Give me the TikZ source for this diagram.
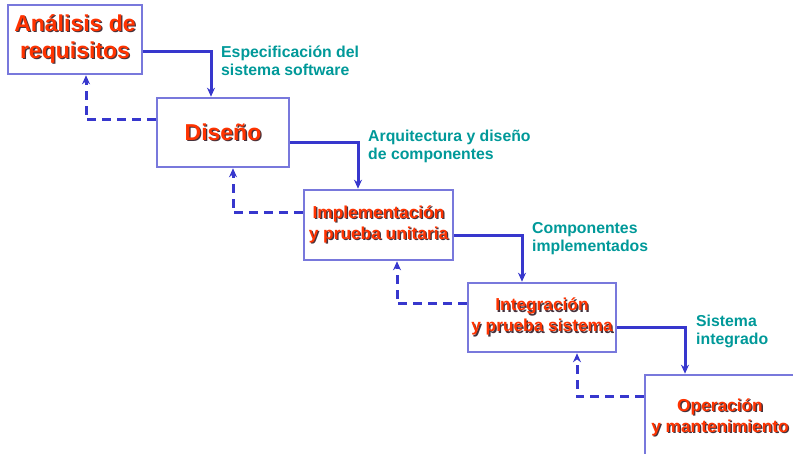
\documentclass[tikz,border=0pt]{standalone}
\usepackage{fontspec}
\setmainfont{Liberation Sans}
\usetikzlibrary{arrows.meta,positioning}
\definecolor{boxline}{RGB}{120,120,220}
\definecolor{flowblue}{RGB}{55,55,205}
\definecolor{boxred}{RGB}{255,51,0}
\definecolor{redshade}{RGB}{70,50,60}
\definecolor{labteal}{RGB}{0,153,153}
\newcommand\shd[1]{\makebox[0pt][l]{\kern1.3pt\raisebox{-1.3pt}{\color{redshade}#1}}{\color{boxred}#1}}

\begin{document}
\begin{tikzpicture}[x=1pt,y=-1pt,>={Stealth[length=9pt,width=8pt]},
  phase/.style={draw=boxline,line width=2.6pt,fill=white,align=center,inner sep=0pt,
    font=\bfseries\fontsize{17.3}{21}\selectfont},
  bigphase/.style={phase,font=\bfseries\fontsize{23}{27}\selectfont},
  flow/.style={->,draw=flowblue,line width=3pt},
  back/.style={flow,dash pattern=on 9pt off 6pt},
  lbl/.style={anchor=west,align=left,inner sep=0pt,text=labteal,
    font=\bfseries\fontsize{15.8}{18}\selectfont}]
\useasboundingbox (0,0) rectangle (793,454);
\clip (0,0) rectangle (793,454);
% fases
\node[bigphase,minimum width=134pt,minimum height=69pt] (ana) at (75,39.5) {\shd{Análisis de}\\\shd{requisitos}};
\node[bigphase,minimum width=132pt,minimum height=69pt] (dis) at (223,132.5) {\shd{Diseño}};
\node[phase,minimum width=149pt,minimum height=70pt] (imp) at (378.5,225) {\shd{Implementación}\\\shd{y prueba unitaria}};
\node[phase,minimum width=148pt,minimum height=69pt] (int) at (542,317.5) {\shd{Integración}\\\shd{y prueba sistema}};
\node[phase,minimum width=150pt,minimum height=86pt] (ope) at (720,418) {\shd{Operación}\\\shd{y mantenimiento}};
% flujo hacia abajo
\draw[flow] ([yshift=-12.5pt]ana.east) -| ([xshift=-12pt]dis.north);
\draw[flow] ([yshift=-10.5pt]dis.east) -| ([xshift=-20.5pt]imp.north);
\draw[flow] ([yshift=-11pt]imp.east) -| ([xshift=-20pt]int.north);
\draw[flow] ([yshift=-10.5pt]int.east) -| ([xshift=-35pt]ope.north);
% realimentacion
\draw[back] ([yshift=12.5pt]dis.west) -| ([xshift=11pt]ana.south);
\draw[back] ([yshift=12pt]imp.west) -| ([xshift=10pt]dis.south);
\draw[back] ([yshift=13.5pt]int.west) -| ([xshift=18.5pt]imp.south);
\draw[back] ([yshift=21pt]ope.west) -| ([xshift=35pt]int.south);
% productos
\node[lbl] (esp) at (221,61) {Especificación del\\sistema software};
\node[lbl] (arq) at (368,146.5) {Arquitectura y diseño\\de componentes};
\node[lbl] (com) at (532,239) {Componentes\\implementados};
\node[lbl] (sis) at (696,331) {Sistema\\integrado};
\end{tikzpicture}
\end{document}
